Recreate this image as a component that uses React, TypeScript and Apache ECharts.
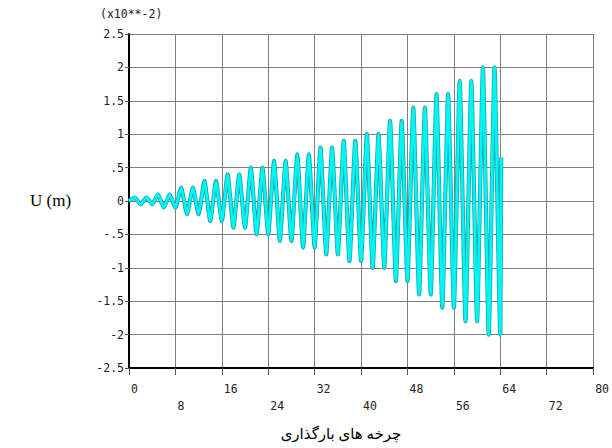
import React, { useEffect, useRef } from "react";
import * as echarts from "echarts";

// Loading cycle axis (x) and displacement U in units of 1e-2 m (y), read at each peak
const cycleX = [
  0,
  1, 2, 3, 4,
  5, 6, 7, 8,
  9, 10, 11, 12,
  13, 14, 15, 16,
  17, 18, 19, 20,
  21, 22, 23, 24,
  25, 26, 27, 28,
  29, 30, 31, 32,
  33, 34, 35, 36,
  37, 38, 39, 40,
  41, 42, 43, 44,
  45, 46, 47, 48,
  49, 50, 51, 52,
  53, 54, 55, 56,
  57, 58, 59, 60,
  61, 62, 63, 64,
  64.15,
];
const displacement = [
  0,
  0.05, -0.05, 0.05, -0.05,
  0.1, -0.1, 0.1, -0.1,
  0.2, -0.2, 0.2, -0.2,
  0.3, -0.3, 0.3, -0.3,
  0.4, -0.4, 0.4, -0.4,
  0.5, -0.5, 0.5, -0.5,
  0.6, -0.6, 0.6, -0.6,
  0.7, -0.7, 0.7, -0.7,
  0.8, -0.8, 0.8, -0.8,
  0.9, -0.9, 0.9, -0.9,
  1.0, -1.0, 1.0, -1.0,
  1.2, -1.2, 1.2, -1.2,
  1.4, -1.4, 1.4, -1.4,
  1.6, -1.6, 1.6, -1.6,
  1.8, -1.8, 1.8, -1.8,
  2.0, -2.0, 2.0, -2.0,
  0.65,
];

// Tick labels from bottom (-2.5) to top (2.5)
const yTickLabels = ["-2.5", "-2", "-1.5", "-1", "-.5", "0", ".5", "1", "1.5", "2", "2.5"];

const yTitle = "U (m)";
const xTitle = "چرخه های بارگذاری";
const scaleNote = "(x10**-2)";

export default function App() {
  const ref = useRef<HTMLDivElement>(null);
  useEffect(() => {
    if (!ref.current) return;
    const chart = echarts.init(ref.current, null, { renderer: "svg" });
    const data = cycleX.map((x, i) => [x, displacement[i]]);
    const mono = "DejaVu Sans Mono";
    chart.setOption({
      animation: false,
      backgroundColor: "#ffffff",
      grid: { left: 129, right: 14, top: 34, bottom: 80, containLabel: false },
      xAxis: {
        type: "value",
        min: 0,
        max: 80,
        interval: 8,
        axisLine: { show: true, onZero: false, lineStyle: { color: "#000", width: 2 } },
        axisTick: { show: true, length: 7, lineStyle: { color: "#555", width: 1 } },
        splitLine: { show: true, lineStyle: { color: "#7f7f7f", width: 1 } },
        axisLabel: {
          show: true,
          color: "#222",
          fontFamily: mono,
          fontSize: 11.5,
          lineHeight: 17,
          margin: 12,
          align: "left",
          padding: [0, 0, 0, 2],
          showMaxLabel: true,
          showMinLabel: true,
          formatter: (v: number) => (Math.round(v / 8) % 2 === 1 ? "\n" : "") + v,
        },
      },
      yAxis: {
        type: "value",
        min: -2.5,
        max: 2.5,
        interval: 0.5,
        axisLine: { show: true, onZero: false, lineStyle: { color: "#000", width: 2 } },
        axisTick: { show: true, length: 4, lineStyle: { color: "#555", width: 1 } },
        splitLine: { show: true, lineStyle: { color: "#7f7f7f", width: 1 } },
        axisLabel: {
          color: "#222",
          fontFamily: mono,
          fontSize: 11.5,
          margin: 5,
          formatter: (v: any) => {
            const idx = Math.round((Number(v) + 2.5) / 0.5);
            return yTickLabels[idx] ?? String(v);
          },
        },
      },
      series: [
        {
          type: "line",
          data,
          showSymbol: false,
          smooth: 0.15,
          smoothMonotone: "x",
          lineStyle: { color: "#16abab", width: 4.2 },
          z: 2,
        },
        {
          type: "line",
          data,
          showSymbol: false,
          smooth: 0.15,
          smoothMonotone: "x",
          lineStyle: { color: "#00f6f6", width: 2.6 },
          z: 3,
        },
      ],
      graphic: [
        {
          type: "text",
          left: 100,
          top: 8,
          style: { text: scaleNote, font: `11.5px ${mono}`, fill: "#222" },
        },
        {
          type: "text",
          x: 30,
          y: 200,
          style: {
            text: yTitle,
            font: '17px "Liberation Serif", "Times New Roman", serif',
            fill: "#000",
            verticalAlign: "middle",
          },
        },
        {
          type: "text",
          x: 341,
          y: 434,
          style: {
            text: xTitle,
            font: '15px "Times New Roman", "Liberation Serif", "DejaVu Sans", serif',
            fill: "#000",
            align: "center",
            verticalAlign: "middle",
          },
        },
      ],
    });
    return () => chart.dispose();
  }, []);
  return <div ref={ref} style={{ width: 612, height: 448, position: "absolute", left: 0, top: 0 }} />;
}
